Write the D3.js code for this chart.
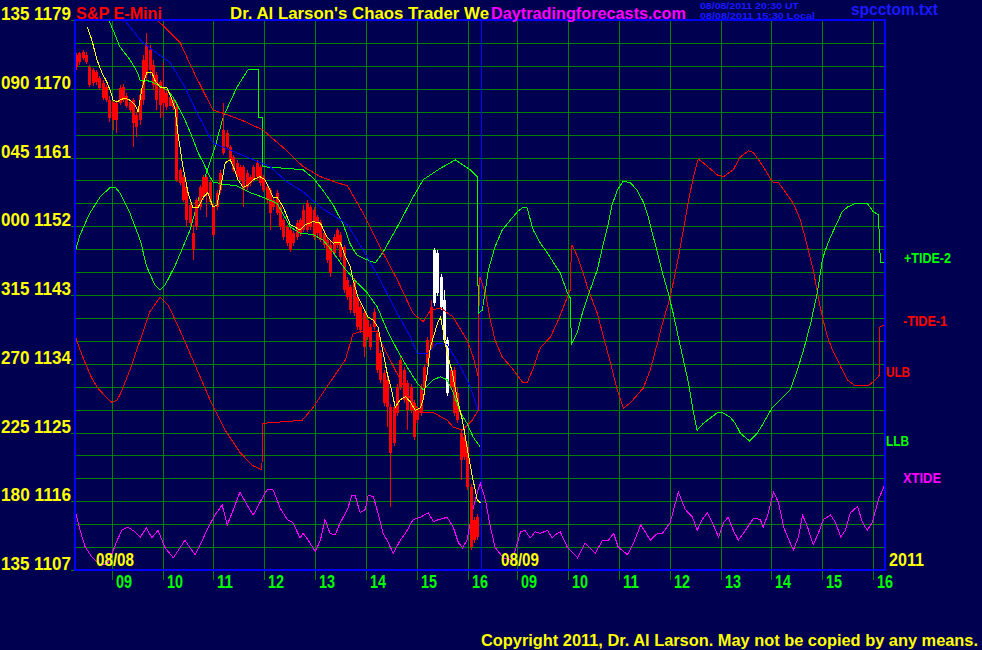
<!DOCTYPE html>
<html><head><meta charset="utf-8">
<script src="https://cdn.jsdelivr.net/npm/d3@7"></script>
<style>html,body{margin:0;padding:0;background:#000050;}svg{display:block}</style>
</head><body><svg id="c" width="982" height="650"></svg>
<script>
// ---------------- DATA ----------------
const priceTicks = [1179,1170,1161,1152,1143,1134,1125,1116,1107];
const angleTicks = ["135","090","045","000","315","270","225","180","135"];
const hourValues = [9,10,11,12,13,14,15,16];
const hourLabels = ["09","10","11","12","13","14","15","16"];
const dayLabels = ["08/08","08/09"];
const sessionOpen = 8.27;   // clock hour of session start
const sessionLen = 7.96;    // hours per session
const barStart = 0.03, barStep = 0.0657; // session hours
const whiteBars = [107,108,109,110,111];

const barOpen = [1174.4,1174.7,1174.8,1174.4,1172.9,1172.5,1172.2,1171.4,1170.8,1170.2,
1168.5,1168.3,1168.1,1170.1,1170.2,1169.1,1168.3,1168.5,1166.6,1169.2,
1173.8,1175.7,1175.1,1173.1,1171.8,1170.9,1170.2,1169.4,1168.9,1168.5,
1167.6,1159.4,1158.5,1157.1,1154.8,1151.1,1155.4,1157.1,1158.5,1158.5,
1157.8,1154.5,1156.4,1159.0,1164.6,1164.2,1162.4,1161.1,1160.3,1159.8,
1159.8,1159.0,1158.5,1159.8,1160.3,1159.8,1158.5,1157.1,1156.7,1155.4,
1156.4,1154.5,1152.8,1151.9,1151.5,1151.1,1152.4,1152.8,1154.1,1155.0,
1154.5,1154.1,1153.2,1152.6,1151.1,1150.2,1149.5,1150.6,1151.5,1150.9,
1149.3,1145.0,1144.1,1145.0,1142.7,1141.4,1140.6,1139.7,1138.8,1140.8,
1138.0,1135.4,1132.8,1131.9,1128.3,1128.3,1130.9,1134.5,1133.2,1131.5,
1130.9,1128.9,1127.9,1130.9,1133.6,1137.1,1141.4,1148.9,1148.5,1145.4,
1142.3,1137.1,1133.2,1133.2,1130.2,1124.9,1124.4,1123.1,1117.9,1113.5,
1113.9];
const barClose = [1172.9,1173.5,1174.0,1173.5,1170.5,1170.8,1170.9,1170.1,1168.8,1168.5,
1166.2,1165.9,1165.9,1168.1,1168.5,1167.7,1167.2,1165.5,1165.0,1165.9,
1168.5,1171.8,1172.5,1170.5,1168.5,1167.9,1168.1,1167.6,1167.8,1167.6,
1158.0,1157.7,1155.4,1152.8,1152.4,1148.9,1151.9,1154.5,1155.8,1156.4,
1155.2,1150.9,1154.5,1156.7,1161.6,1162.4,1160.7,1159.4,1158.5,1158.1,
1156.7,1157.1,1157.7,1158.1,1158.5,1157.7,1156.7,1155.4,1153.7,1154.5,
1153.7,1151.9,1150.6,1149.8,1148.9,1149.8,1150.6,1151.1,1151.5,1151.5,
1151.9,1150.6,1151.1,1150.2,1149.5,1147.6,1145.9,1148.5,1149.5,1148.0,
1143.7,1142.7,1141.0,1140.6,1138.8,1138.4,1136.2,1137.5,1136.2,1138.8,
1133.2,1131.9,1128.9,1128.3,1122.3,1123.6,1127.6,1130.9,1129.3,1127.9,
1127.9,1124.4,1126.6,1127.6,1130.9,1134.1,1136.2,1142.0,1143.3,1141.4,
1137.1,1130.2,1130.9,1127.6,1126.6,1121.4,1121.8,1117.9,1110.0,1110.9,
1111.3];
const barHigh = [1174.7,1174.8,1175.1,1174.8,1173.1,1172.7,1172.5,1171.7,1171.1,1170.5,
1169.1,1168.5,1168.5,1170.5,1170.6,1169.4,1168.5,1168.8,1167.0,1169.8,
1174.4,1177.3,1175.7,1173.8,1172.2,1171.1,1173.4,1169.8,1169.3,1168.8,
1167.9,1159.6,1158.7,1157.4,1155.2,1152.2,1155.7,1157.4,1158.7,1158.7,
1158.1,1155.0,1156.7,1159.4,1168.1,1164.6,1162.6,1161.3,1160.7,1160.0,
1160.0,1159.4,1158.7,1160.0,1160.7,1160.0,1158.7,1157.4,1157.0,1155.7,
1156.7,1154.8,1153.1,1152.2,1151.8,1151.4,1152.8,1153.1,1154.8,1155.4,
1154.8,1154.5,1153.5,1152.8,1151.5,1150.6,1150.2,1151.0,1151.8,1151.2,
1149.6,1145.4,1144.3,1145.2,1143.1,1141.8,1141.0,1140.1,1139.2,1141.3,
1138.4,1135.8,1133.2,1132.3,1128.7,1128.7,1131.3,1134.9,1133.6,1131.9,
1131.3,1129.3,1128.3,1131.3,1134.0,1137.5,1142.3,1149.2,1148.9,1145.7,
1143.7,1137.5,1133.6,1133.6,1131.0,1125.3,1124.8,1123.5,1118.3,1113.9,
1114.3];
const barLow = [1172.5,1173.1,1173.8,1173.2,1170.2,1170.4,1170.5,1169.8,1168.5,1168.3,
1165.7,1164.6,1164.2,1167.9,1168.3,1167.5,1167.0,1162.4,1163.7,1165.3,
1167.9,1171.1,1171.8,1169.8,1167.2,1166.2,1166.3,1167.2,1167.7,1167.2,
1157.8,1157.4,1155.2,1151.9,1152.0,1147.6,1151.5,1154.1,1155.4,1153.2,
1154.8,1150.6,1154.1,1156.4,1161.3,1162.0,1160.4,1159.1,1158.1,1157.8,
1154.5,1156.7,1157.3,1157.8,1158.1,1157.3,1156.5,1155.0,1151.5,1154.1,
1153.5,1151.5,1150.2,1149.4,1148.6,1149.4,1150.2,1150.7,1151.2,1151.2,
1151.5,1150.2,1150.7,1149.9,1149.1,1147.2,1145.4,1148.1,1149.1,1147.6,
1143.3,1142.3,1140.6,1140.3,1138.4,1138.0,1134.9,1137.1,1135.8,1138.4,
1132.8,1131.5,1128.5,1125.7,1115.3,1123.2,1127.2,1130.6,1128.9,1125.3,
1127.6,1124.0,1126.2,1127.2,1130.6,1133.7,1135.8,1141.6,1142.9,1141.0,
1136.7,1129.8,1130.6,1127.2,1126.2,1118.8,1121.4,1117.5,1109.6,1110.5,
1110.9];

// lines: [session hours, value]
const yellowMA = [[0.25,1178.1],[0.34,1176.4],[0.44,1173.8],[0.54,1172.1],[0.64,1170.8],[0.70,1169.8],[0.76,1168.5],[0.84,1168.3],[0.89,1168.5],[0.99,1168.8],[1.09,1168.5],[1.19,1167.9],[1.25,1167.0],[1.33,1170.2],[1.42,1172.1],[1.52,1172.1],[1.58,1171.1],[1.68,1170.2],[1.82,1170.1],[1.92,1168.5],[1.98,1167.2],[2.03,1164.2],[2.13,1159.8],[2.23,1156.4],[2.33,1154.4],[2.43,1154.5],[2.53,1155.8],[2.62,1156.4],[2.72,1154.5],[2.80,1154.8],[2.90,1158.1],[2.96,1160.3],[3.06,1160.7],[3.12,1159.8],[3.21,1158.1],[3.31,1157.1],[3.41,1157.4],[3.51,1158.1],[3.64,1158.5],[3.74,1158.1],[3.84,1156.7],[3.90,1155.8],[3.98,1155.8],[4.10,1154.5],[4.24,1152.2],[4.33,1151.9],[4.43,1151.5],[4.53,1152.2],[4.69,1152.6],[4.83,1152.4],[4.96,1150.6],[5.08,1149.8],[5.22,1149.9],[5.32,1148.0],[5.42,1146.7],[5.47,1145.0],[5.57,1142.7],[5.67,1141.4],[5.77,1140.1],[5.87,1139.7],[5.96,1138.8],[6.04,1136.2],[6.14,1132.8],[6.24,1130.2],[6.30,1128.3],[6.40,1129.3],[6.50,1129.7],[6.60,1129.0],[6.69,1127.9],[6.79,1128.2],[6.85,1129.3],[6.93,1132.8],[6.99,1136.2],[7.05,1137.5],[7.13,1139.3],[7.19,1140.1],[7.24,1138.4],[7.32,1135.4],[7.42,1132.9],[7.52,1129.3],[7.62,1126.6],[7.71,1123.1],[7.81,1119.4],[7.91,1116.2],[7.97,1115.8]];
const greenMA = [[0.68,1178.9],[0.80,1177.0],[0.89,1175.5],[1.09,1173.8],[1.23,1172.2],[1.29,1171.1],[1.48,1171.0],[1.64,1170.5],[1.82,1169.8],[1.94,1168.9],[2.07,1167.2],[2.17,1165.9],[2.31,1163.7],[2.43,1161.6],[2.53,1160.3],[2.66,1158.5],[2.72,1157.8],[2.92,1157.5],[3.19,1157.3],[3.45,1156.4],[3.70,1155.8],[3.98,1155.0],[4.24,1151.9],[4.43,1151.1],[4.69,1150.9],[4.88,1150.2],[5.08,1148.6],[5.28,1146.7],[5.55,1144.6],[5.75,1143.3],[5.95,1141.4],[6.14,1138.4],[6.34,1135.8],[6.53,1133.6],[6.73,1131.5],[6.85,1130.6],[7.05,1131.9],[7.19,1132.3],[7.32,1131.9],[7.44,1130.2],[7.58,1127.6],[7.71,1126.2],[7.83,1124.4],[7.97,1123.1]];
const blueMA = [[0.99,1178.9],[1.33,1176.1],[1.88,1173.4],[2.17,1170.2],[2.41,1166.8],[2.72,1162.9],[3.19,1161.6],[3.84,1159.8],[4.18,1157.8],[4.49,1156.5],[4.83,1154.5],[5.16,1153.1],[5.36,1152.2],[5.67,1148.9],[6.00,1145.0],[6.34,1140.6],[6.60,1137.5],[6.73,1135.4],[6.93,1135.3],[7.13,1136.7],[7.32,1136.5],[7.58,1133.6],[7.77,1131.0],[7.93,1127.9]];
const redMA = [[1.64,1178.9],[2.07,1176.1],[2.37,1171.8],[2.72,1167.2],[3.00,1166.6],[3.35,1165.7],[3.70,1164.6],[4.10,1162.3],[4.49,1159.8],[4.83,1158.5],[5.16,1157.7],[5.36,1157.3],[5.67,1153.7],[6.00,1149.3],[6.34,1145.0],[6.65,1140.6],[6.85,1139.5],[6.99,1141.0],[7.19,1141.3],[7.44,1140.1],[7.71,1137.1],[7.83,1134.9],[7.93,1132.3]];
const tide2 = [[0.01,1148.6],[0.11,1150.9],[0.30,1153.7],[0.50,1155.8],[0.70,1157.1],[0.80,1157.1],[0.89,1156.4],[1.09,1153.7],[1.29,1150.2],[1.42,1146.7],[1.58,1144.3],[1.68,1143.7],[1.78,1144.3],[1.98,1146.9],[2.27,1151.5],[2.53,1157.8],[2.77,1162.6],[2.92,1166.3],[3.19,1170.2],[3.41,1172.5],[3.61,1172.5],[3.61,1166.2],[3.70,1166.2],[3.70,1159.8],[4.10,1159.6],[4.49,1159.4],[4.69,1158.3],[4.88,1156.7],[5.08,1154.8],[5.28,1152.2],[5.42,1149.6],[5.55,1148.2],[5.75,1147.6],[5.91,1147.2],[6.06,1148.6],[6.34,1151.9],[6.65,1155.8],[6.85,1158.1],[7.19,1159.6],[7.48,1160.7],[7.77,1159.4],[7.91,1158.5],[7.93,1140.6],[8.01,1141.0],[8.13,1146.3],[8.26,1149.3],[8.40,1151.5],[8.56,1152.8],[8.70,1153.9],[8.81,1154.5],[8.89,1154.4],[9.01,1151.5],[9.15,1149.8],[9.29,1148.5],[9.44,1146.9],[9.54,1145.9],[9.68,1143.3],[9.74,1142.6],[9.76,1136.5],[9.88,1138.2],[9.99,1141.0],[10.13,1143.7],[10.27,1146.3],[10.39,1149.8],[10.47,1151.9],[10.56,1154.8],[10.66,1156.7],[10.78,1157.9],[10.92,1157.7],[11.05,1156.7],[11.17,1155.2],[11.27,1153.2],[11.37,1150.6],[11.47,1148.0],[11.57,1145.4],[11.66,1143.3],[11.76,1140.6],[11.86,1137.5],[11.96,1134.5],[12.06,1131.5],[12.14,1128.3],[12.23,1125.3],[12.35,1126.2],[12.49,1126.9],[12.63,1127.6],[12.73,1127.6],[12.88,1127.0],[12.98,1126.2],[13.08,1124.9],[13.26,1123.9],[13.41,1124.9],[13.53,1126.2],[13.71,1128.3],[13.87,1129.3],[14.06,1130.6],[14.20,1133.2],[14.32,1135.8],[14.46,1139.3],[14.59,1143.3],[14.69,1147.6],[14.75,1148.9],[14.85,1150.6],[14.99,1152.6],[15.08,1153.9],[15.18,1154.5],[15.34,1155.0],[15.57,1155.0],[15.69,1153.9],[15.79,1153.5],[15.81,1150.5],[15.83,1147.2],[15.93,1147.2]];
const tide1 = [[0.01,1137.8],[0.11,1135.8],[0.21,1134.1],[0.34,1132.1],[0.46,1130.8],[0.64,1129.5],[0.74,1128.9],[0.84,1129.3],[0.89,1129.9],[1.09,1133.2],[1.29,1137.1],[1.48,1140.8],[1.68,1142.7],[1.84,1141.7],[2.07,1138.4],[2.37,1133.8],[2.66,1129.3],[2.96,1125.3],[3.25,1122.4],[3.49,1120.7],[3.68,1120.1],[3.70,1126.2],[4.47,1126.6],[4.69,1128.3],[4.96,1131.0],[5.32,1134.5],[5.47,1137.9],[5.61,1138.2],[5.95,1138.2],[6.00,1137.1],[6.20,1134.5],[6.53,1130.2],[6.79,1127.6],[7.05,1127.6],[7.32,1126.6],[7.44,1125.7],[7.62,1125.3],[7.81,1126.6],[7.93,1127.9],[7.95,1145.3],[7.97,1145.3],[8.07,1143.3],[8.17,1139.7],[8.26,1137.1],[8.40,1134.9],[8.62,1133.2],[8.81,1131.5],[8.89,1131.5],[9.01,1133.4],[9.15,1136.1],[9.35,1137.5],[9.50,1139.7],[9.68,1142.7],[9.74,1143.7],[9.76,1149.5],[9.78,1149.5],[9.88,1148.0],[9.99,1145.9],[10.09,1143.7],[10.27,1140.6],[10.39,1137.5],[10.53,1134.1],[10.66,1130.6],[10.78,1128.2],[10.92,1128.9],[11.17,1130.8],[11.31,1133.2],[11.45,1136.7],[11.55,1139.3],[11.70,1142.7],[11.84,1147.2],[11.96,1151.5],[12.06,1155.4],[12.16,1158.5],[12.25,1160.8],[12.35,1160.3],[12.63,1158.7],[12.75,1158.5],[12.94,1159.4],[13.08,1161.1],[13.24,1161.9],[13.34,1161.6],[13.53,1159.8],[13.71,1157.8],[13.83,1157.7],[13.96,1156.5],[14.12,1155.0],[14.26,1152.8],[14.40,1149.3],[14.51,1146.3],[14.61,1142.7],[14.69,1140.1],[14.79,1137.5],[14.89,1135.8],[15.05,1133.6],[15.18,1131.9],[15.34,1131.1],[15.59,1131.1],[15.73,1131.9],[15.81,1132.5],[15.81,1138.8],[15.93,1139.1]];
const xtide = [[0.01,1114.9],[0.11,1112.2],[0.21,1110.0],[0.34,1108.7],[0.50,1107.7],[0.64,1107.7],[0.74,1109.2],[0.84,1110.9],[0.93,1112.2],[1.05,1112.6],[1.19,1112.0],[1.29,1111.3],[1.41,1112.5],[1.52,1111.2],[1.64,1112.2],[1.78,1109.9],[1.94,1108.6],[2.07,1109.9],[2.17,1110.9],[2.27,1109.9],[2.37,1109.0],[2.47,1110.3],[2.60,1112.2],[2.76,1114.2],[2.90,1115.5],[3.00,1112.9],[3.12,1114.9],[3.25,1117.2],[3.39,1115.5],[3.51,1114.2],[3.64,1115.8],[3.78,1117.5],[3.90,1117.5],[4.04,1115.1],[4.18,1113.6],[4.29,1113.2],[4.43,1111.2],[4.49,1111.8],[4.59,1110.9],[4.73,1109.4],[4.83,1110.9],[4.92,1113.6],[5.02,1111.8],[5.12,1111.6],[5.22,1113.2],[5.36,1114.9],[5.45,1116.8],[5.51,1116.8],[5.61,1114.5],[5.71,1114.9],[5.77,1116.8],[5.87,1116.6],[5.96,1114.5],[6.06,1111.8],[6.14,1110.9],[6.26,1109.2],[6.40,1110.9],[6.50,1111.8],[6.65,1113.6],[6.79,1113.9],[6.95,1114.5],[7.05,1113.3],[7.15,1113.6],[7.32,1113.9],[7.44,1112.6],[7.54,1110.6],[7.62,1109.9],[7.71,1110.9],[7.81,1114.5],[7.91,1117.1],[7.97,1118.4],[8.07,1116.2],[8.17,1112.6],[8.26,1110.0],[8.42,1108.6],[8.56,1108.3],[8.66,1109.6],[8.76,1112.0],[8.85,1112.2],[8.95,1111.2],[9.05,1112.0],[9.15,1111.8],[9.29,1112.2],[9.38,1111.2],[9.48,1111.8],[9.54,1112.0],[9.68,1110.0],[9.88,1108.6],[10.03,1110.5],[10.17,1109.6],[10.23,1109.2],[10.37,1110.9],[10.49,1110.9],[10.59,1111.8],[10.68,1110.0],[10.86,1109.0],[10.98,1110.5],[11.12,1112.9],[11.21,1112.0],[11.31,1110.9],[11.45,1111.8],[11.55,1111.8],[11.70,1113.2],[11.86,1117.2],[12.00,1114.9],[12.14,1113.9],[12.23,1112.2],[12.33,1113.6],[12.43,1114.5],[12.53,1113.2],[12.65,1111.3],[12.75,1113.2],[12.84,1113.9],[12.94,1112.2],[13.04,1110.9],[13.18,1112.2],[13.34,1113.8],[13.47,1113.6],[13.53,1112.6],[13.63,1114.5],[13.73,1117.2],[13.83,1115.8],[13.93,1112.6],[14.06,1110.5],[14.12,1109.6],[14.22,1111.3],[14.30,1114.2],[14.40,1112.6],[14.51,1110.3],[14.61,1111.8],[14.71,1113.6],[14.85,1114.2],[14.95,1113.2],[15.05,1111.3],[15.14,1112.2],[15.24,1114.5],[15.38,1115.3],[15.48,1113.2],[15.57,1112.2],[15.67,1113.2],[15.79,1116.2],[15.93,1118.4]];

// ---------------- DRAW ----------------
const svg = d3.select('#c');
const W = 982, H = 650;
const L = 74.5, R = 885, T = 20, B = 570;
const BG = '#000050';
svg.append('rect').attr('width', W).attr('height', H).attr('fill', BG);

const x = d3.scaleLinear().domain([0, 2 * sessionLen]).range([L, R]);
const y = d3.scaleLinear().domain([1107, 1179]).range([B, T]);
const px = v => Math.round(v) + 0.5;
const FONT = "'Liberation Sans', Arial, Helvetica, sans-serif";

// horizontal grid
const gridVals = d3.range(1110, 1179, 3);
svg.append('g').attr('shape-rendering', 'crispEdges').selectAll('line').data(gridVals).join('line')
  .attr('x1', L).attr('x2', R).attr('y1', d => px(y(d))).attr('y2', d => px(y(d)))
  .attr('stroke', '#008000').attr('stroke-width', 1);

// vertical grid & ticks
const hourTicks = [];
[0, 1].forEach(d => hourValues.forEach((h, i) => hourTicks.push({t: d * sessionLen + h - sessionOpen, label: hourLabels[i]})));
svg.append('g').attr('shape-rendering', 'crispEdges').selectAll('line').data(hourTicks).join('line')
  .attr('x1', d => px(x(d.t))).attr('x2', d => px(x(d.t))).attr('y1', T).attr('y2', 580)
  .attr('stroke', '#008000').attr('stroke-width', 1);

// left ticks
svg.append('g').attr('shape-rendering', 'crispEdges').selectAll('line').data(priceTicks).join('line')
  .attr('x1', 71).attr('x2', L).attr('y1', d => px(y(d))).attr('y2', d => px(y(d)))
  .attr('stroke', '#008000');

// day divider
svg.append('line').attr('shape-rendering', 'crispEdges')
  .attr('x1', px(x(sessionLen)) + 1).attr('x2', px(x(sessionLen)) + 1).attr('y1', T).attr('y2', B)
  .attr('stroke', '#0000ff').attr('stroke-width', 1);

const line = d3.line().x(d => x(d[0])).y(d => y(d[1]));
function drawLine(data, color) {
  svg.append('path').datum(data).attr('d', line).attr('fill', 'none')
    .attr('stroke', color).attr('stroke-width', 1).attr('shape-rendering', 'crispEdges');
}

drawLine(xtide, '#ff00ff');
drawLine(tide1, '#ff0000');
drawLine(tide2, '#00ff00');

// candles
const bars = barOpen.map((o, i) => ({t: barStart + i * barStep, o, c: barClose[i], h: barHigh[i], l: barLow[i], w: whiteBars.includes(i)}));
const cg = svg.append('g').attr('shape-rendering', 'crispEdges');
cg.selectAll('line').data(bars).join('line')
  .attr('x1', d => px(x(d.t))).attr('x2', d => px(x(d.t)))
  .attr('y1', d => y(d.h)).attr('y2', d => y(d.l))
  .attr('stroke', d => d.w ? '#ffffff' : '#ff0000');
cg.selectAll('rect').data(bars).join('rect')
  .attr('x', d => Math.round(x(d.t)) - 1).attr('width', 3)
  .attr('y', d => y(Math.max(d.o, d.c))).attr('height', d => Math.max(1, Math.abs(y(d.o) - y(d.c))))
  .attr('fill', d => d.w ? '#ffffff' : '#ff0000');

drawLine(redMA, '#ff0000');
drawLine(blueMA, '#0000ff');
drawLine(greenMA, '#00ff00');
drawLine(yellowMA, '#ffff00');

// frame
svg.append('rect').attr('x', L).attr('y', T).attr('width', R - L).attr('height', B - T)
  .attr('fill', 'none').attr('stroke', '#0000ff').attr('stroke-width', 2).attr('shape-rendering', 'crispEdges');

// text helper
function txt(str, tx, ty, size, color, width) {
  const t = svg.append('text').attr('x', tx).attr('y', ty).text(str)
    .attr('fill', color).attr('font-family', FONT).attr('font-weight', 'bold')
    .attr('font-size', size + 'px');
  if (width) t.attr('textLength', width).attr('lengthAdjust', 'spacingAndGlyphs');
  return t;
}

// left labels
priceTicks.forEach((p, i) => txt(angleTicks[i] + ' ' + p, 1, Math.round(y(p)) - 0.5, 19, '#ffff00', 70));

// hour labels
hourTicks.forEach(d => txt(d.label, px(x(d.t)) + 3.5, 588, 19, '#00ff00', 16));

// day labels
txt(dayLabels[0], 96, 566, 19, '#ffff00', 38);
txt(dayLabels[1], 501, 566, 19, '#ffff00', 38);
txt('2011', 889, 566, 19, '#ffff00', 35);

// title texts
txt('S&P E-Mini', 76, 18.5, 17, '#ff0000', 86);
txt("Dr. Al Larson's Chaos Trader We", 230, 18.5, 17, '#ffff00', 259);
txt('Daytradingforecasts.com', 491, 18.5, 17, '#ff00ff', 195);
txt('08/08/2011 20:30 UT', 700, 9, 9, '#1a1aff', 99);
txt('08/08/2011 15:30 Local', 700, 18.5, 9.5, '#1a1aff', 115);
txt('spcctom.txt', 851, 15, 16, '#1a1aff', 87);

// right labels
txt('+TIDE-2', 904, 263, 15, '#00ff00', 47);
txt('-TIDE-1', 903, 326, 15, '#ff0000', 44);
txt('ULB', 886, 377, 15, '#ff0000', 24);
txt('LLB', 886, 446, 15, '#00ff00', 23);
txt('XTIDE', 903, 483, 15, '#ff00ff', 38);

// copyright
txt('Copyright 2011, Dr. Al Larson. May not be copied by any means.', 481, 646, 16, '#ffff00', 497);
</script></body></html>
